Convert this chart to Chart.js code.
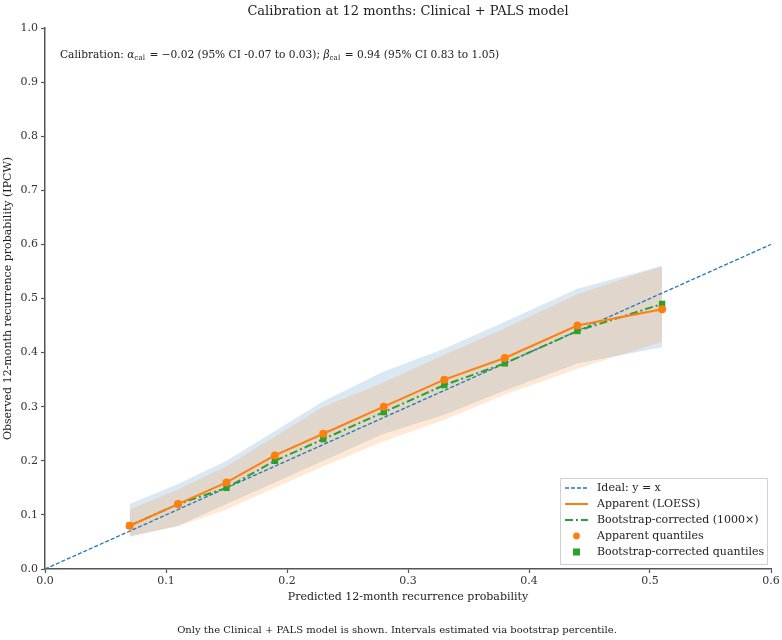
<!DOCTYPE html>
<html>
<head>
<meta charset="utf-8">
<script src="https://cdn.jsdelivr.net/npm/chart.js@4.4.1/dist/chart.umd.min.js"></script>
<style>
  html, body { margin: 0; padding: 0; background: #fff; }
  #wrap { width: 782px; height: 640px; position: relative; }
</style>
</head>
<body>
<div id="wrap"><canvas id="calChart" width="782" height="640"></canvas></div>
<script>
var predicted = [0.07, 0.11, 0.15, 0.19, 0.23, 0.28, 0.33, 0.38, 0.44, 0.51];
var apparentObs = [0.08, 0.12, 0.16, 0.21, 0.25, 0.30, 0.35, 0.39, 0.45, 0.48];
var correctedObs = [0.08, 0.12, 0.15, 0.20, 0.24, 0.29, 0.34, 0.38, 0.44, 0.49];
var correctedLo = [0.06, 0.08, 0.12, 0.16, 0.20, 0.25, 0.285, 0.33, 0.38, 0.41];
var correctedHi = [0.12, 0.157, 0.20, 0.255, 0.31, 0.365, 0.407, 0.457, 0.518, 0.56];
var apparentLo = [0.06, 0.079, 0.11, 0.15, 0.19, 0.236, 0.276, 0.322, 0.37, 0.42];
var apparentHi = [0.11, 0.147, 0.19, 0.245, 0.30, 0.345, 0.396, 0.445, 0.508, 0.56];
var idealLine = [0, 0.6];

var FONT = "'DejaVu Serif', serif";
var BLUE = "#1f77b4", ORANGE = "#ff7f0e", GREEN = "#2ca02c";

function pts(xs, ys) {
  return xs.map(function (x, i) { return { x: x, y: ys[i] }; });
}

// text, legend and annotation drawn on top of the chart
var extras = {
  id: "extras",
  afterDraw: function (chart) {
    var c = chart.ctx;
    var area = chart.chartArea;
    c.save();
    c.fillStyle = "#222";
    c.textBaseline = "middle";
    c.textAlign = "center";
    c.font = "13px " + FONT;
    c.fillText("Calibration at 12 months: Clinical + PALS model", area.left + (area.right - area.left) / 2, 12);
    c.font = "10px " + FONT;
    c.fillText("Only the Clinical + PALS model is shown. Intervals estimated via bootstrap percentile.", 397, 630);

    // annotation with subscripts
    var parts = [
      ["Calibration: ", "n"], ["\u03b1", "i"], ["cal", "s"],
      [" = \u22120.02 (95% CI -0.07 to 0.03); ", "n"], ["\u03b2", "i"], ["cal", "s"],
      [" = 0.94 (95% CI 0.83 to 1.05)", "n"]
    ];
    var x = 60, y = 55;
    c.textAlign = "left";
    parts.forEach(function (p) {
      if (p[1] === "i") c.font = "italic 10.6px " + FONT;
      else if (p[1] === "s") c.font = "7.3px " + FONT;
      else c.font = "10.6px " + FONT;
      c.fillText(p[0], x, p[1] === "s" ? y + 3 : y);
      x += c.measureText(p[0]).width + (p[1] === "s" ? 1 : 0);
    });

    // legend box
    var bx = 560, by = 478, bw = 207, bh = 86;
    c.fillStyle = "rgba(255,255,255,0.8)";
    c.strokeStyle = "#d0d0d0";
    c.lineWidth = 1;
    c.beginPath();
    c.rect(bx + 0.5, by + 0.5, bw, bh);
    c.fill();
    c.stroke();
    var items = [
      { label: "Ideal: y = x", kind: "line", color: BLUE, width: 1.3, dash: [4, 2] },
      { label: "Apparent (LOESS)", kind: "line", color: ORANGE, width: 2, dash: [] },
      { label: "Bootstrap-corrected (1000\u00d7)", kind: "line", color: GREEN, width: 2, dash: [8, 3, 2, 3] },
      { label: "Apparent quantiles", kind: "circle", color: ORANGE },
      { label: "Bootstrap-corrected quantiles", kind: "square", color: GREEN }
    ];
    c.font = "11px " + FONT;
    items.forEach(function (it, i) {
      var ry = by + 10 + i * 16;
      if (it.kind === "line") {
        c.strokeStyle = it.color;
        c.lineWidth = it.width;
        c.setLineDash(it.dash);
        c.beginPath();
        c.moveTo(bx + 5, ry);
        c.lineTo(bx + 28, ry);
        c.stroke();
        c.setLineDash([]);
      } else if (it.kind === "circle") {
        c.fillStyle = it.color;
        c.beginPath();
        c.arc(bx + 16.5, ry, 3.4, 0, Math.PI * 2);
        c.fill();
      } else {
        c.fillStyle = it.color;
        c.fillRect(bx + 13, ry - 3.5, 7, 7);
      }
      c.fillStyle = "#222";
      c.fillText(it.label, bx + 37, ry);
    });
    c.restore();
  }
};

var ctx = document.getElementById("calChart").getContext("2d");
var myChart = new Chart(ctx, {
  type: "line",
  data: {
    datasets: [
      {
        label: "Ideal",
        data: pts(idealLine, idealLine),
        borderColor: BLUE,
        borderWidth: 1.3,
        borderDash: [4, 2],
        pointRadius: 0,
        fill: false,
        order: 1,
      },
      {
        label: "Apparent (LOESS)",
        data: pts(predicted, apparentObs),
        borderColor: ORANGE,
        backgroundColor: ORANGE,
        borderWidth: 2,
        pointRadius: 4,
        pointBorderWidth: 0,
        fill: false,
        order: 0,
      },
      {
        label: "Bootstrap-corrected (1000x)",
        data: pts(predicted, correctedObs),
        borderColor: GREEN,
        backgroundColor: GREEN,
        borderWidth: 2,
        borderDash: [8, 3, 2, 3],
        pointStyle: "rect",
        pointRadius: 4.5,
        pointBorderWidth: 0,
        fill: false,
        order: 0,
      },
      {
        label: "corrected lo",
        data: pts(predicted, correctedLo),
        borderWidth: 0,
        pointRadius: 0,
        fill: false,
        order: 3,
      },
      {
        label: "corrected hi",
        data: pts(predicted, correctedHi),
        borderWidth: 0,
        pointRadius: 0,
        backgroundColor: "rgba(31,119,180,0.17)",
        fill: "-1",
        order: 3,
      },
      {
        label: "apparent lo",
        data: pts(predicted, apparentLo),
        borderWidth: 0,
        pointRadius: 0,
        fill: false,
        order: 2,
      },
      {
        label: "apparent hi",
        data: pts(predicted, apparentHi),
        borderWidth: 0,
        pointRadius: 0,
        backgroundColor: "rgba(255,127,14,0.17)",
        fill: "-1",
        order: 2,
      },
    ],
  },
  options: {
    responsive: false,
    animation: false,
    layout: {
      padding: { top: 28, right: 11, bottom: 34, left: 0 },
    },
    plugins: {
      legend: { display: false },
      tooltip: { enabled: false },
      title: { display: false },
    },
    scales: {
      x: {
        type: "linear",
        min: 0,
        max: 0.6,
        afterFit: function (scale) { scale.height = 37; },
        ticks: {
          stepSize: 0.1,
          padding: 2,
          color: "#333",
          font: { family: FONT, size: 11 },
          callback: function (v) { return v.toFixed(1); },
        },
        grid: { drawOnChartArea: false, tickLength: 4, color: "#555", tickWidth: 1.2 },
        border: { color: "#555", width: 1.5 },
        title: {
          display: true,
          text: "Predicted 12-month recurrence probability",
          color: "#222",
          font: { family: FONT, size: 11 },
          padding: { top: 0, bottom: 2 },
        },
      },
      y: {
        min: 0,
        max: 1,
        afterFit: function (scale) { scale.width = 45; },
        ticks: {
          stepSize: 0.1,
          padding: 3,
          color: "#333",
          font: { family: FONT, size: 11 },
          callback: function (v) { return v.toFixed(1); },
        },
        grid: { drawOnChartArea: false, tickLength: 4, color: "#555", tickWidth: 1.2 },
        border: { color: "#555", width: 1.5 },
        title: {
          display: true,
          text: "Observed 12-month recurrence probability (IPCW)",
          color: "#222",
          font: { family: FONT, size: 11 },
          padding: { top: 2, bottom: 0 },
        },
      },
    },
  },
  plugins: [extras],
});
</script>
</body>
</html>
